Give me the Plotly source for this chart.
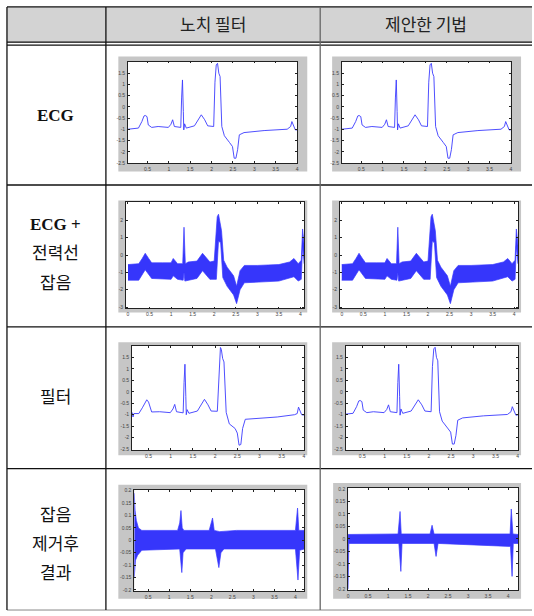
import plotly.graph_objects as go

W, H = 534, 616

# ---------------- data ----------------
header_cols = ["노치 필터", "제안한 기법"]
row_labels = [["<b>ECG</b>"], ["<b>ECG +</b>", "전력선", "잡음"], ["필터"], ["잡음", "제거후", "결과"]]

# clean ECG (rows 1, col 2 of row 3)
ecg_t = [0.05, 0.29, 0.37, 0.42, 0.45, 0.49, 0.52, 0.60, 0.75, 0.99, 1.05, 1.09, 1.13, 1.28,
         1.30, 1.32, 1.34, 1.35, 1.37, 1.41, 1.60, 1.70, 1.76, 1.84, 1.91, 2.05, 2.08, 2.11,
         2.14, 2.17, 2.20, 2.24, 2.30, 2.42, 2.49, 2.53, 2.57, 2.61, 2.65, 2.76, 3.23, 3.77,
         3.85, 3.88, 3.92, 3.96, 4.00]
ecg_v = [-0.99, -0.94, -0.65, -0.40, -0.38, -0.43, -0.80, -0.91, -0.87, -0.91, -0.77, -0.57, -0.87, -0.91,
         0.40, 1.20, -0.20, -1.02, -0.75, -0.94, -0.84, -0.55, -0.35, -0.57, -0.84, -0.87, 1.10, 1.87,
         1.94, 1.50, 1.35, -0.87, -1.28, -1.58, -1.76, -2.28, -2.28, -1.90, -1.24, -1.14, -1.05, -0.99,
         -0.87, -0.65, -0.87, -1.02, -1.02]

# notch-filtered ECG (row 3, col 1)
notch_t = [0.13, 0.15, 0.17, 0.28, 0.36, 0.43, 0.46, 0.50, 0.57, 0.75, 0.99, 1.05, 1.09, 1.13, 1.28,
           1.30, 1.32, 1.34, 1.35, 1.37, 1.41, 1.60, 1.70, 1.76, 1.84, 1.91, 2.05, 2.09, 2.12,
           2.14, 2.17, 2.20, 2.25, 2.32, 2.45, 2.50, 2.54, 2.58, 2.62, 2.68, 3.00, 3.40, 3.79,
           3.85, 3.88, 3.91, 3.95, 4.00]
notch_v = [-0.90, -1.10, -0.95, -0.95, -0.70, -0.40, -0.35, -0.45, -0.88, -0.87, -0.91, -0.75, -0.55, -0.87, -0.92,
           0.40, 1.20, -0.20, -1.00, -0.78, -0.94, -0.84, -0.55, -0.33, -0.57, -0.84, -0.85, 1.20, 1.93,
           1.85, 1.45, 1.30, -0.90, -1.40, -1.60, -1.80, -2.33, -2.30, -1.60, -1.20, -1.15, -1.10, -1.00,
           -0.95, -0.67, -0.85, -1.00, -1.02]

# ECG + power-line noise: upper / lower envelope of the noisy band (row 2)
noisy_up_t = [0.00, 0.25, 0.33, 0.40, 0.48, 0.55, 0.80, 1.00, 1.05, 1.15, 1.27, 1.30, 1.33, 1.40, 1.60,
              1.73, 1.90, 2.00, 2.07, 2.10, 2.17, 2.22, 2.30, 2.45, 2.52, 2.60, 2.70, 3.00, 3.50,
              3.75, 3.85, 3.95, 4.02, 4.05, 4.09]
noisy_up_v = [-0.55, -0.50, -0.20, 0.10, -0.20, -0.45, -0.45, -0.45, -0.20, -0.50, -0.50, 1.60, -0.50, -0.40, -0.35,
              0.10, -0.40, -0.35, 2.20, 2.35, 1.40, -0.30, -0.70, -1.20, -1.80, -0.90, -0.60, -0.60, -0.55,
              -0.40, -0.20, -0.50, -0.30, 1.50, 0.50]
noisy_lo_t = [0.00, 0.25, 0.40, 0.55, 1.00, 1.05, 1.15, 1.28, 1.30, 1.32, 1.60, 1.73, 1.90, 2.05,
              2.10, 2.15, 2.20, 2.30, 2.45, 2.52, 2.60, 2.70, 3.00, 3.50, 3.85, 3.95, 4.02, 4.05, 4.09]
noisy_lo_v = [-1.45, -1.45, -0.85, -1.35, -1.40, -1.20, -1.40, -1.45, -1.00, -1.50, -1.35, -0.90, -1.40, -1.40,
              0.80, 0.70, -1.30, -1.80, -2.30, -2.80, -2.00, -1.60, -1.55, -1.50, -1.25, -1.50, -1.40, 0.50, -0.50]

# removed noise, notch filter (row 4, col 1)
rn_up_t = [0.17, 0.19, 0.22, 0.27, 0.35, 1.20, 1.25, 1.28, 1.31, 1.35, 1.95, 2.00, 2.03, 2.07,
           2.20, 2.60, 4.00, 4.05, 4.08, 4.21]
rn_up_v = [0.19, 0.12, 0.08, 0.05, 0.04, 0.04, 0.07, 0.12, 0.05, 0.04, 0.04, 0.07, 0.09, 0.04,
           0.035, 0.04, 0.04, 0.13, 0.04, 0.04]
rn_lo_t = [0.17, 0.20, 0.25, 0.35, 1.25, 1.30, 1.33, 1.40, 2.10, 2.18, 2.23, 2.30, 4.00, 4.06, 4.10, 4.21]
rn_lo_v = [-0.15, -0.08, -0.06, -0.04, -0.035, -0.13, -0.05, -0.035, -0.035, -0.11, -0.05, -0.035, -0.035, -0.16, -0.04, -0.035]

# removed noise, proposed method (row 4, col 2)
rp_up_t = [0.00, 1.25, 1.30, 1.33, 2.05, 2.10, 2.15, 4.05, 4.08, 4.12, 4.25]
rp_up_v = [0.018, 0.02, 0.11, 0.02, 0.02, 0.055, 0.02, 0.02, 0.12, 0.02, 0.018]
rp_lo_t = [0.00, 0.02, 1.27, 1.28, 1.32, 1.35, 2.15, 2.20, 2.25, 4.06, 4.10, 4.13, 4.25]
rp_lo_v = [-0.20, -0.018, -0.018, -0.04, -0.13, -0.018, -0.018, -0.07, -0.018, -0.03, -0.15, -0.018, -0.018]

# tick values / labels
ecg_xticks = [0.5, 1, 1.5, 2, 2.5, 3, 3.5, 4]
ecg_xtext = ["0.5", "1", "1.5", "2", "2.5", "3", "3.5", "4"]
full_xticks = [0, 0.5, 1, 1.5, 2, 2.5, 3, 3.5, 4]
full_xtext = ["0", "0.5", "1", "1.5", "2", "2.5", "3", "3.5", "4"]
ecg_yticks = [-2.5, -2, -1.5, -1, -0.5, 0, 0.5, 1, 1.5]
ecg_ytext = ["-2.5", "-2", "-1.5", "-1", "-0.5", "0", "0.5", "1", "1.5"]
noisy_yticks = [-3, -2, -1, 0, 1, 2]
noisy_ytext = ["-3", "-2", "-1", "0", "1", "2"]
res_yticks = [-0.2, -0.15, -0.1, -0.05, 0, 0.05, 0.1, 0.15, 0.2]
res_ytext = ["-0.2", "-0.15", "-0.1", "-0.05", "0", "0.05", "0.1", "0.15", "0.2"]

# ---------------- layout helpers ----------------
fig = go.Figure()
shapes = []
annotations = []
LINE_BLUE = "#3b3bff"

def px_x(x):
    return x / W

def px_y(y):
    return 1 - y / H

def rect(x0, y0, x1, y1, fill, line=None):
    shapes.append(dict(type="rect", xref="paper", yref="paper",
                       x0=px_x(x0), x1=px_x(x1), y0=px_y(y1), y1=px_y(y0),
                       fillcolor=fill, line=dict(width=0) if line is None else line,
                       layer="below"))

def hline(x0, x1, y, color="#111111", w=1.3):
    shapes.append(dict(type="line", xref="paper", yref="paper",
                       x0=px_x(x0), x1=px_x(x1), y0=px_y(y), y1=px_y(y),
                       line=dict(color=color, width=w), layer="above"))

def vline(x, y0, y1, color="#111111", w=1.3):
    shapes.append(dict(type="line", xref="paper", yref="paper",
                       x0=px_x(x), x1=px_x(x), y0=px_y(y0), y1=px_y(y1),
                       line=dict(color=color, width=w), layer="above"))

# table background + lines
rect(6, 5, 534, 41, "#d3d3d3")
hline(6, 534, 5)
hline(6, 534, 40.5)
hline(6, 534, 43.5)
hline(6, 534, 184.5)
hline(6, 534, 327.5)
hline(6, 534, 470.5)
hline(6, 534, 613, color="#888888", w=1)
vline(6, 5, 613)
vline(105.5, 5, 613)
vline(321, 5, 613, color="#666666", w=1.3)

# headers
for txt, xc in zip(header_cols, [213, 427]):
    annotations.append(dict(x=px_x(xc), y=px_y(22), xref="paper", yref="paper", text=txt,
                            xanchor="center", yanchor="middle",
                            showarrow=False, font=dict(family="Noto Sans CJK KR", size=17, color="#222")))

# row labels
label_centers = [114, 254, 399, 547]
for lines, yc in zip(row_labels, label_centers):
    n = len(lines)
    for i, t in enumerate(lines):
        yy = yc + (i - (n - 1) / 2) * 29.5
        annotations.append(dict(x=px_x(55), y=px_y(yy), xref="paper", yref="paper", text=t,
                                xanchor="center", yanchor="middle", showarrow=False,
                                font=dict(family="Liberation Serif, Noto Sans CJK KR", size=17, color="#111")))

# ---------------- panels ----------------
COL_OFF = 215
panels = []
for c in range(2):
    o = c * COL_OFF
    panels.append(dict(gray=(118 + o, 55, 308 + o, 171), ax=(127.7 + o, 60, 297.7 + o, 162.5),
                       xr=[0.045, 4.0], yr=[-2.5, 2.02], xt=(ecg_xticks, ecg_xtext), yt=(ecg_yticks, ecg_ytext),
                       kind="line", data=(ecg_t, ecg_v)))
    panels.append(dict(gray=(118 + o, 200, 308 + o, 313), ax=(125.7 + o, 201.7, 305 + o, 309),
                       xr=[-0.046, 4.09], yr=[-3.08, 3.05], xt=(full_xticks, full_xtext), yt=(noisy_yticks, noisy_ytext),
                       kind="band", data=(noisy_up_t, noisy_up_v, noisy_lo_t, noisy_lo_v)))
    if c == 0:
        panels.append(dict(gray=(118 + o, 343, 308 + o, 457), ax=(131.7 + o, 346.7, 305 + o, 451.7),
                           xr=[0.126, 4.01], yr=[-2.54, 2.0], xt=(ecg_xticks, ecg_xtext), yt=(ecg_yticks, ecg_ytext),
                           kind="line", data=(notch_t, notch_v)))
        panels.append(dict(gray=(118, 486.7, 308, 601.7), ax=(134, 491.7, 305, 594),
                           xr=[0.17, 4.21], yr=[-0.205, 0.204], xt=(ecg_xticks, ecg_xtext), yt=(res_yticks, res_ytext),
                           kind="band", data=(rn_up_t, rn_up_v, rn_lo_t, rn_lo_v)))
    else:
        panels.append(dict(gray=(118 + o, 343, 308 + o, 457), ax=(131.7 + o, 346.7, 305 + o, 451.7),
                           xr=[0.126, 4.01], yr=[-2.54, 2.0], xt=(ecg_xticks, ecg_xtext), yt=(ecg_yticks, ecg_ytext),
                           kind="line", data=(ecg_t, ecg_v)))
        panels.append(dict(gray=(334, 485, 523, 601.7), ax=(349, 490, 520, 592.7),
                           xr=[0.0, 4.25], yr=[-0.204, 0.204], xt=(full_xticks, full_xtext), yt=(res_yticks, res_ytext),
                           kind="band", data=(rp_up_t, rp_up_v, rp_lo_t, rp_lo_v)))

layout_axes = {}
tickfont = dict(family="Liberation Sans", size=5, color="#444")
for i, p in enumerate(panels, start=1):
    rect(*p["gray"], "#c6c6c6")
    x0, y0, x1, y1 = p["ax"]
    rect(x0, y0, x1, y1, "#ffffff")
    xa = "x" if i == 1 else f"x{i}"
    ya = "y" if i == 1 else f"y{i}"
    if p["kind"] == "line":
        t, v = p["data"]
        fig.add_trace(go.Scatter(x=t, y=v, mode="lines", line=dict(color=LINE_BLUE, width=0.9),
                                 xaxis=xa, yaxis=ya, showlegend=False, hoverinfo="skip"))
    else:
        ut, uv, lt, lv = p["data"]
        xs = list(ut) + list(reversed(lt))
        ys = list(uv) + list(reversed(lv))
        fig.add_trace(go.Scatter(x=xs, y=ys, mode="lines", fill="toself",
                                 fillcolor="rgba(10,10,250,0.82)",
                                 line=dict(color="#3a3aff", width=0.7),
                                 xaxis=xa, yaxis=ya, showlegend=False, hoverinfo="skip"))
    common = dict(showgrid=False, zeroline=False, showline=True, linecolor="#222", linewidth=0.7,
                  mirror="ticks", ticks="inside", ticklen=2, tickwidth=0.6, tickcolor="#222",
                  tickfont=tickfont, fixedrange=True)
    xk = "xaxis" if i == 1 else f"xaxis{i}"
    yk = "yaxis" if i == 1 else f"yaxis{i}"
    layout_axes[xk] = dict(domain=[px_x(x0), px_x(x1)], range=p["xr"], anchor=ya,
                           tickvals=p["xt"][0], ticktext=p["xt"][1], ticklabelstandoff=1, **common)
    layout_axes[yk] = dict(domain=[px_y(y1), px_y(y0)], range=p["yr"], anchor=xa,
                           tickvals=p["yt"][0], ticktext=p["yt"][1], ticklabelstandoff=1, **common)

fig.update_layout(width=W, height=H, autosize=False,
                  margin=dict(l=0, r=0, t=0, b=0, pad=0),
                  paper_bgcolor="#ffffff", plot_bgcolor="rgba(0,0,0,0)",
                  shapes=shapes, annotations=annotations, showlegend=False,
                  hovermode=False, **layout_axes)

fig.write_html("out.html", config={"displayModeBar": False},
               post_script="document.body.style.margin='0';document.body.style.overflow='hidden';")
